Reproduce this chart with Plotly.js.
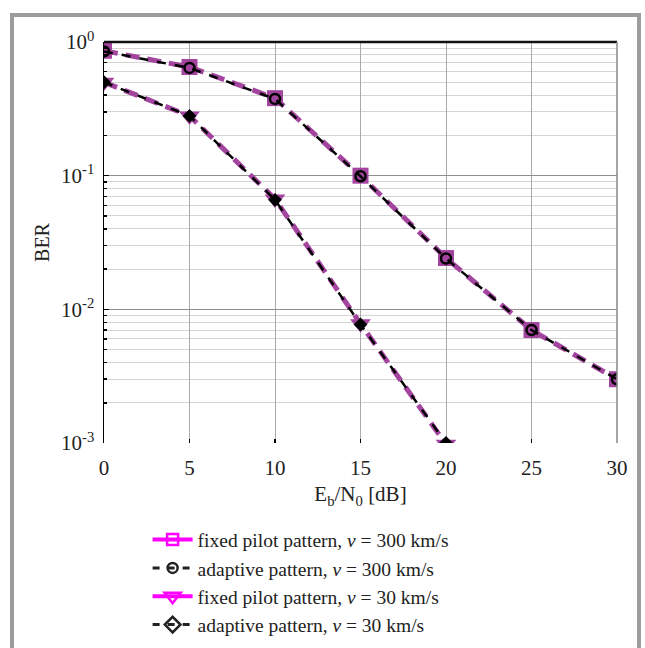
<!DOCTYPE html>
<html>
<head>
<meta charset="utf-8">
<script src="https://cdn.plot.ly/plotly-3.0.1.min.js"></script>
<style>
html,body{margin:0;padding:0;background:#fff;}
#frame{position:absolute;left:10px;top:13px;width:623px;height:650px;border:4px solid #9c9c9c;}
#plot{position:absolute;left:0;top:0;width:645px;height:648px;}
</style>
</head>
<body>
<div id="frame"></div>
<div id="plot"></div>
<script>
const snr = [0, 5, 10, 15, 20, 25, 30];
const berFixed300 = [0.86, 0.65, 0.38, 0.100, 0.0242, 0.0070, 0.0030];
const berAdapt300 = [0.85, 0.64, 0.375, 0.099, 0.0240, 0.0070, 0.0030];
const snr30 = [0, 5, 10, 15, 20];
const berFixed30 = [0.50, 0.28, 0.067, 0.0078, 0.00098];
const berAdapt30 = [0.50, 0.28, 0.066, 0.0077, 0.00100];
const xTicks = [0, 5, 10, 15, 20, 25, 30];
const yTickVals = [1, 0.1, 0.01, 0.001];
const yTickText = ['10<sup>0</sup>', '10<sup>-1</sup>', '10<sup>-2</sup>', '10<sup>-3</sup>'];
const labels = [
  'fixed pilot pattern, <i>v</i> = 300 km/s',
  'adaptive pattern, <i>v</i> = 300 km/s',
  'fixed pilot pattern, <i>v</i> = 30 km/s',
  'adaptive pattern, <i>v</i> = 30 km/s'
];

const purple = '#a3449f';
const magenta = '#ff00ff';

const traces = [
  {x: snr, y: berFixed300, mode: 'lines+markers', showlegend: false,
   line: {color: purple, width: 5, dash: '14px,8px'},
   marker: {symbol: 'square', size: 16, color: purple}},
  {x: snr, y: berAdapt300, mode: 'lines+markers', showlegend: false,
   line: {color: '#000', width: 2.5, dash: 'dash'},
   marker: {symbol: 'circle-open', size: 10, color: '#000', line: {width: 2.5, color: '#000'}}},
  {x: snr30, y: berFixed30, mode: 'lines+markers', showlegend: false,
   line: {color: purple, width: 5, dash: '14px,8px'},
   marker: {symbol: 'triangle-down', size: 18, color: purple}},
  {x: snr30, y: berAdapt30, mode: 'lines+markers', showlegend: false,
   line: {color: '#000', width: 2.5, dash: 'dash'},
   marker: {symbol: 'diamond', size: 9, color: '#000', line: {width: 1.5, color: '#000'}}},
  // legend entries
  {x: [null], y: [null], mode: 'lines+markers', name: labels[0],
   line: {color: magenta, width: 4},
   marker: {symbol: 'square-open', size: 11, color: magenta, line: {width: 2.5, color: magenta}}},
  {x: [null], y: [null], mode: 'lines+markers', name: labels[1],
   line: {color: '#222', width: 3, dash: '7px,8px'},
   marker: {symbol: 'circle-open', size: 10, color: '#222', line: {width: 2.5, color: '#222'}}},
  {x: [null], y: [null], mode: 'lines+markers', name: labels[2],
   line: {color: magenta, width: 4},
   marker: {symbol: 'triangle-down-open', size: 14, color: magenta, line: {width: 2.5, color: magenta}}},
  {x: [null], y: [null], mode: 'lines+markers', name: labels[3],
   line: {color: '#222', width: 3, dash: '7px,8px'},
   marker: {symbol: 'diamond-open', size: 12, color: '#222', line: {width: 2.5, color: '#222'}}}
];

const fam = '"Liberation Serif", "Times New Roman", serif';
const font = {family: fam, size: 21, color: '#222'};

const layout = {
  width: 645, height: 648,
  margin: {l: 104, r: 28, t: 42, b: 205, autoexpand: false},
  paper_bgcolor: 'rgba(0,0,0,0)',
  plot_bgcolor: '#fff',
  font: font,
  showlegend: true,
  legend: {x: 0.085, xanchor: 'left', y: -0.193, yanchor: 'top',
    font: {family: fam, size: 19.5, color: '#222'},
    bgcolor: 'rgba(0,0,0,0)', tracegroupgap: 0, itemwidth: 40},
  xaxis: {
    range: [0, 30], tickvals: xTicks, automargin: false,
    ticks: 'inside', ticklen: 4, tickcolor: '#000', tickwidth: 1.5,
    ticklabelstandoff: 10,
    showgrid: true, gridcolor: '#aaaaaa', gridwidth: 1,
    showline: false, zeroline: false, mirror: false,
    tickfont: {family: fam, size: 21, color: '#222'},
    title: {text: 'E<sub>b</sub>/N<sub>0</sub> [dB]', standoff: 7,
      font: {family: fam, size: 21, color: '#222'}}
  },
  yaxis: {
    type: 'log', range: [-3, 0], automargin: false,
    tickvals: yTickVals, ticktext: yTickText,
    ticks: 'inside', ticklen: 5, tickcolor: '#000', tickwidth: 1.5,
    ticklabelstandoff: 4,
    showgrid: true, gridcolor: '#8f8f8f', gridwidth: 1,
    showline: true, linecolor: '#000', linewidth: 1.5, mirror: false,
    zeroline: false,
    minor: {dtick: 'D1', ticks: 'inside', ticklen: 3, tickcolor: '#000',
      showgrid: true, gridcolor: '#d4d4d4', gridwidth: 1},
    tickfont: {family: fam, size: 21, color: '#222'},
    title: {text: 'BER', standoff: 6, font: {family: fam, size: 20, color: '#222'}}
  },
  shapes: [
    {type: 'line', xref: 'paper', yref: 'paper', x0: 0, x1: 1, y0: 1, y1: 1,
     line: {color: '#111', width: 2.5}},
    {type: 'line', xref: 'paper', yref: 'paper', x0: 1, x1: 1, y0: 0, y1: 1,
     line: {color: '#888', width: 1.5}}
  ]
};

Plotly.newPlot('plot', traces, layout, {displayModeBar: false, staticPlot: true});
</script>
</body>
</html>
